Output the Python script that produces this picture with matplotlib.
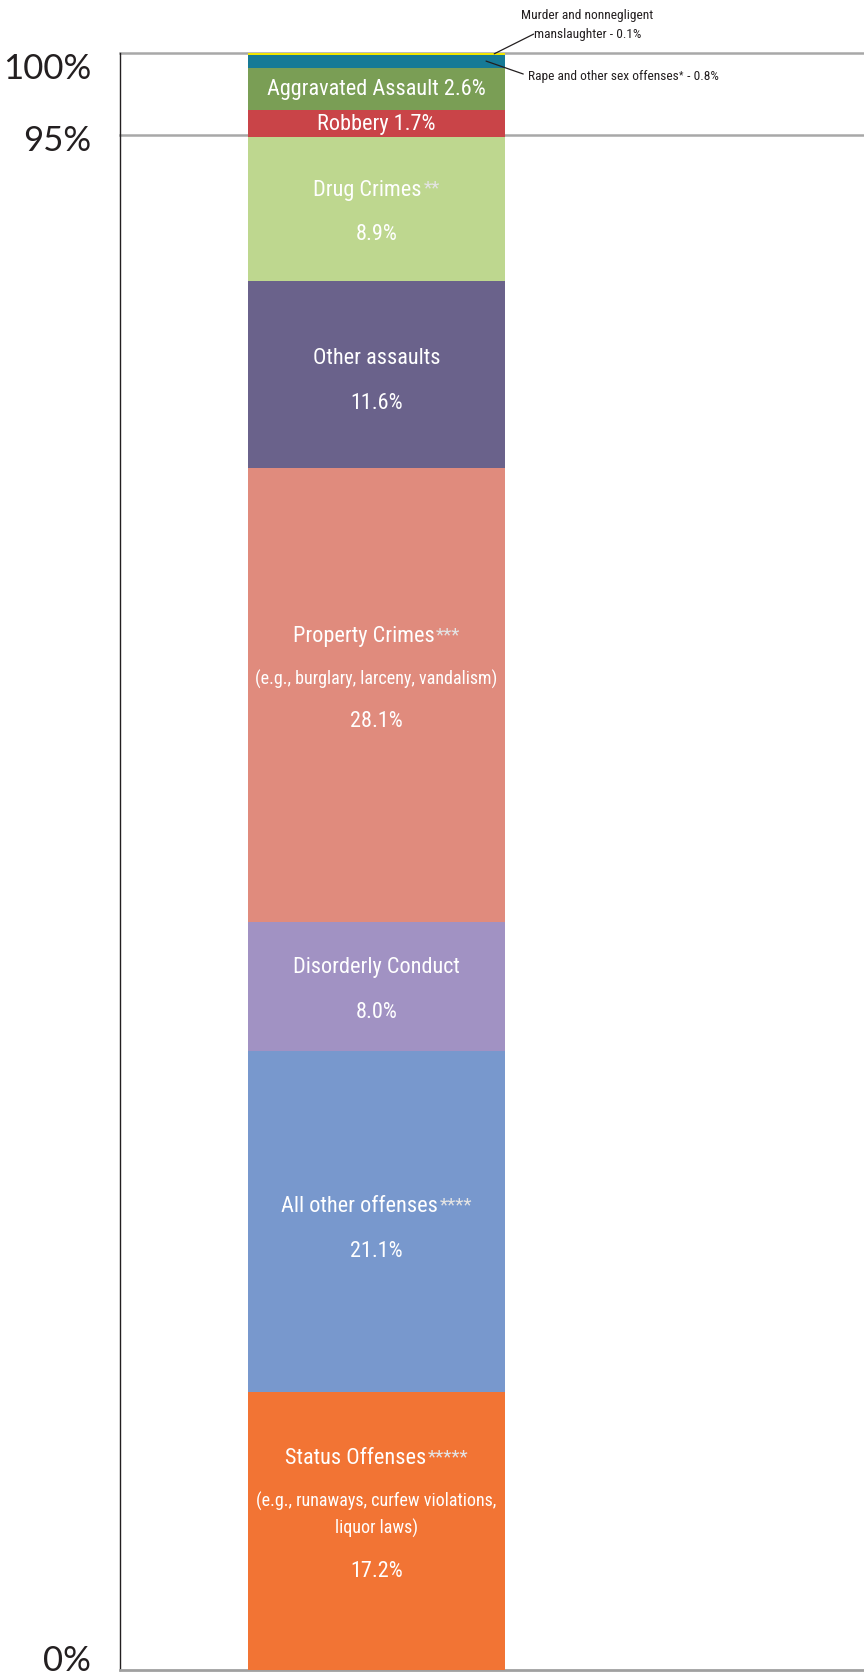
import matplotlib
matplotlib.use("Agg")
import matplotlib.pyplot as plt
from matplotlib import font_manager as fm
from matplotlib.offsetbox import TextArea, HPacker, AnnotationBbox
import numpy as np

# ---- data (bottom -> top) ----
categories = ["Status Offenses", "All other offenses", "Disorderly Conduct", "Property Crimes",
              "Other assaults", "Drug Crimes", "Robbery", "Aggravated Assault",
              "Rape and other sex offenses", "Murder and nonnegligent manslaughter"]
values = [17.2, 21.1, 8.0, 28.1, 11.6, 8.9, 1.7, 2.6, 0.8, 0.1]
colors = ["#F27434", "#7898CD", "#A192C3", "#E08B7D", "#6A628B", "#BED78F",
          "#C94448", "#7A9E55", "#167A96", "#F2E600"]
asterisks = ["*****", "****", "", "***", "", "**", "", "", "*", ""]
subtitles = ["(e.g., runaways, curfew violations,\nliquor laws)", "", "",
             "(e.g., burglary, larceny, vandalism)", "", "", "", "", "", ""]
tick_values = [0, 95, 100]
tick_labels = ["0%", "95%", "100%"]


# ---- font selection: prefer a condensed / narrow face ----
def pick_condensed():
    prefs = ["roboto condensed", "liberation sans narrow", "open sans condensed",
             "dejavu sans condensed", "noto sans condensed"]
    cands = []
    for f in fm.fontManager.ttflist:
        nm = f.name.lower()
        fn = f.fname.lower()
        cond = ("condensed" in nm or "narrow" in nm or "condensed" in fn or "narrow" in fn
                or str(f.stretch) in ("condensed", "semi-condensed", "extra-condensed"))
        if not cond or f.style != "normal":
            continue
        if any(k in fn for k in ("bold", "light", "thin", "black", "medium", "italic")):
            continue
        w = f.weight if isinstance(f.weight, int) else 400
        score = 10
        for k, p in enumerate(prefs):
            if p in nm or p.replace(" ", "") in fn.replace("-", ""):
                score = k
        cands.append((score, abs(w - 400), f.fname))
    if cands:
        cands.sort()
        return fm.FontProperties(fname=cands[0][2]), True
    return fm.FontProperties(family="DejaVu Sans"), False


COND, HAVE_COND = pick_condensed()
names = [f.name for f in fm.fontManager.ttflist]
BIG = "Lato" if "Lato" in names else "DejaVu Sans"

W, H = 864, 1674
total = float(np.sum(values))
fig = plt.figure(figsize=(W / 100, H / 100), dpi=100)
ax_left, ax_bottom, ax_top = 120 / W, 3 / H, 54 / H
ax = fig.add_axes([ax_left, ax_bottom, 1 - ax_left, 1 - ax_bottom - ax_top])
ax.set_xlim(0, 1)
ax.set_ylim(0, total)

bar_x0, bar_x1 = (248 - 120) / 744, (505 - 120) / 744
bar_c, bar_w = (bar_x0 + bar_x1) / 2, bar_x1 - bar_x0

bottoms = np.concatenate([[0], np.cumsum(values)[:-1]])
for v, b, c in zip(values, bottoms, colors):
    ax.bar(bar_c, v, width=bar_w, bottom=b, color=c, linewidth=0, clip_on=False, zorder=3)

for t in (95, 100):
    ax.axhline(t if t < 100 else total, color="#A8A8A8", lw=1.8, zorder=1, clip_on=False)

for s in ("top", "right"):
    ax.spines[s].set_visible(False)
ax.spines["left"].set_color("#231F20")
ax.spines["left"].set_linewidth(1.0)
ax.spines["bottom"].set_color("#A0A0A0")
ax.spines["bottom"].set_linewidth(2.0)
ax.set_xticks([])
ax.set_yticks([])

label_offsets = {0: 0.6, 95: -0.3, 100: -0.8}
for tv, tl in zip(tick_values, tick_labels):
    ax.text(-0.039, tv + label_offsets[tv], tl, ha="right", va="center",
            fontsize=25, family=BIG, color="#231F20", clip_on=False)

fs = 16 if HAVE_COND else 12.5
fs_sub = 13 if HAVE_COND else 10.5
fs_ann = 9.6 if HAVE_COND else 7.5


def fp(size):
    p = COND.copy()
    p.set_size(size)
    return p


def label(x, y, main, stars, size, color="white", star_color="#E4E4E4", zorder=6):
    if not stars:
        ax.text(x, y, main, ha="center", va="center", color=color,
                fontproperties=fp(size), zorder=zorder)
        return
    t1 = TextArea(main, textprops=dict(color=color, fontproperties=fp(size)))
    t2 = TextArea(stars, textprops=dict(color=star_color, fontproperties=fp(size * 0.85)))
    box = HPacker(children=[t1, t2], align="top", pad=0, sep=1)
    ab = AnnotationBbox(box, (x, y), xycoords="data", frameon=False,
                        box_alignment=(0.5, 0.5), pad=0, zorder=zorder)
    ax.add_artist(ab)


line_gap = 2.75
sub_gap = 1.65
block_shift = {0: 1.2, 1: -0.25, 3: 1.2, 4: -0.2}
base_shift = -0.15
for i, (name, v, b) in enumerate(zip(categories, values, bottoms)):
    mid = b + v / 2
    if v < 1.0:
        continue
    if v < 3.0:
        ax.text(bar_c, mid, f"{name} {v:.1f}%", ha="center", va="center", color="white",
                fontproperties=fp(fs), zorder=6)
        continue
    lines = [("head", 0.0, None)]
    if subtitles[i]:
        sub_lines = subtitles[i].split("\n")
        lines.append((sub_lines[0], line_gap - 0.1, "sub"))
        for sl in sub_lines[1:]:
            lines.append((sl, sub_gap, "sub"))
        lines.append((f"{v:.1f}%", line_gap - 0.1, "val"))
    else:
        lines.append((f"{v:.1f}%", line_gap, "val"))
    ys = np.cumsum([g for _, g, _ in lines])
    ys = ys - ys.mean()
    centre = mid + block_shift.get(i, 0.0) + base_shift
    for (txt, _, kind), dy in zip(lines, ys):
        if kind is None:
            label(bar_c, centre - dy, name, asterisks[i], fs)
        else:
            ax.text(bar_c, centre - dy, txt, ha="center", va="center", color="white",
                    fontproperties=fp(fs_sub if kind == "sub" else fs), zorder=6)

ann_color = "#231F20"
murder_y = bottoms[9] + values[9] / 2
ax.annotate("", xy=(0.503, murder_y), xycoords="data",
            xytext=(0.556, 1.0117), textcoords="axes fraction",
            arrowprops=dict(arrowstyle="-", color=ann_color, lw=0.9, shrinkA=0, shrinkB=0))
ax.text(0.628, 1.018, "Murder and nonnegligent\nmanslaughter - 0.1%", transform=ax.transAxes,
        ha="center", va="center", linespacing=1.55, clip_on=False, color=ann_color,
        fontproperties=fp(fs_ann))

rape_y = bottoms[8] + values[8] / 2
ax.annotate("", xy=(0.492, rape_y), xycoords="data",
            xytext=(0.542, 0.987), textcoords="axes fraction",
            arrowprops=dict(arrowstyle="-", color=ann_color, lw=0.9, shrinkA=0, shrinkB=0))
t_r = TextArea(categories[8], textprops=dict(color=ann_color, fontproperties=fp(fs_ann)))
t_s = TextArea(asterisks[8], textprops=dict(color=ann_color, fontproperties=fp(fs_ann * 0.75)))
t_v = TextArea(f" - {values[8]:.1f}%", textprops=dict(color=ann_color, fontproperties=fp(fs_ann)))
rbox = HPacker(children=[t_r, t_s, t_v], align="top", pad=0, sep=0)
ab = AnnotationBbox(rbox, (0.549, 0.986), xycoords="axes fraction", frameon=False,
                    box_alignment=(0.0, 0.5), pad=0, annotation_clip=False)
ax.add_artist(ab)

fig.savefig("out.png", dpi=100)
